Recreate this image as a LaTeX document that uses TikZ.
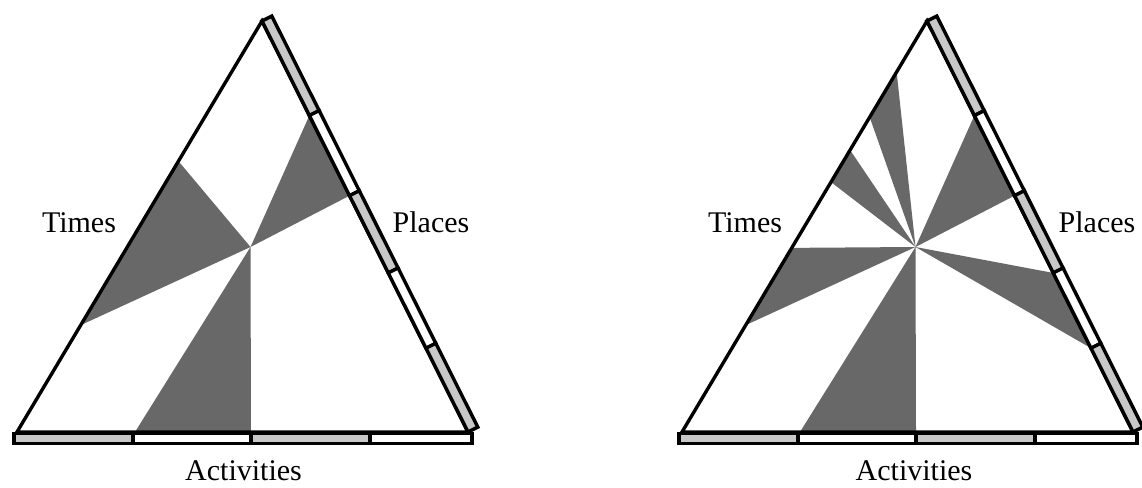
\documentclass[tikz,border=0pt]{standalone}
\usepackage{fontspec}
\setmainfont{Liberation Serif}
\usetikzlibrary{calc}
\definecolor{wedgegray}{RGB}{104,104,104}
\definecolor{bargray}{RGB}{200,200,200}
\tikzset{
  wedge/.style={fill=wedgegray, draw=none},
  outline/.style={draw=black, line width=3.4pt, line join=miter},
  grayseg/.style={fill=bargray, draw=black, line width=3.4pt, line join=miter},
  whiteseg/.style={fill=white, draw=black, line width=3.4pt, line join=miter},
  lbl/.style={font=\fontsize{30}{35}\selectfont, inner sep=0pt, anchor=base}
}
\newcommand\mytriframe{%
  \coordinate (A) at (17,432);
  \coordinate (B) at (468,432);
  \coordinate (C) at (262,21);
  \coordinate (P) at (250.5,247);
  \coordinate (Co) at (271.8,16.1);
  \coordinate (Bo) at (477.8,427.1);
}
\newcommand\mybars{%
  \draw[outline] (A) -- (C) -- (B) -- cycle;
  % bottom bar
  \draw[grayseg]  (14,433.5) rectangle (133,443.5);
  \draw[whiteseg] (133,433.5) rectangle (251,443.5);
  \draw[grayseg]  (251,433.5) rectangle (370,443.5);
  \draw[whiteseg] (370,433.5) rectangle (472,443.5);
  % right bar
  \draw[grayseg]  (C) -- (Co) -- ($(Co)!0.23!(Bo)$) -- ($(C)!0.23!(B)$) -- cycle;
  \draw[whiteseg] ($(C)!0.23!(B)$) -- ($(Co)!0.23!(Bo)$) -- ($(Co)!0.425!(Bo)$) -- ($(C)!0.425!(B)$) -- cycle;
  \draw[grayseg]  ($(C)!0.425!(B)$) -- ($(Co)!0.425!(Bo)$) -- ($(Co)!0.613!(Bo)$) -- ($(C)!0.613!(B)$) -- cycle;
  \draw[whiteseg] ($(C)!0.613!(B)$) -- ($(Co)!0.613!(Bo)$) -- ($(Co)!0.796!(Bo)$) -- ($(C)!0.796!(B)$) -- cycle;
  \draw[grayseg]  ($(C)!0.796!(B)$) -- ($(Co)!0.796!(Bo)$) -- (Bo) -- (B) -- cycle;
}
\begin{document}
\begin{tikzpicture}[x=1pt,y=-1pt]
\useasboundingbox (0,0) rectangle (1142,487);
% ---------- left triangle ----------
\begin{scope}
  \mytriframe
  \fill[wedge] (P) -- (135,432) -- (251,432) -- cycle;
  \fill[wedge] (P) -- ($(A)!0.659!(C)$) -- ($(A)!0.26!(C)$) -- cycle;
  \fill[wedge] (P) -- ($(C)!0.23!(B)$) -- ($(C)!0.425!(B)$) -- cycle;
  \mybars
  \node[lbl] (times1) at (79,232) {Times};
  \node[lbl] (places1) at (431,232) {Places};
  \node[lbl] (act1) at (243.5,480) {Activities};
\end{scope}
% ---------- right triangle ----------
\begin{scope}[xshift=665pt]
  \mytriframe
  \fill[wedge] (P) -- (135,432) -- (251,432) -- cycle;
  \fill[wedge] (P) -- ($(A)!0.26!(C)$) -- ($(A)!0.448!(C)$) -- cycle;
  \fill[wedge] (P) -- ($(A)!0.608!(C)$) -- ($(A)!0.686!(C)$) -- cycle;
  \fill[wedge] (P) -- ($(A)!0.766!(C)$) -- ($(A)!0.876!(C)$) -- cycle;
  \fill[wedge] (P) -- ($(C)!0.23!(B)$) -- ($(C)!0.425!(B)$) -- cycle;
  \fill[wedge] (P) -- ($(C)!0.613!(B)$) -- ($(C)!0.796!(B)$) -- cycle;
  \mybars
  \node[lbl] (times2) at (80,232) {Times};
  \node[lbl] (places2) at (432,232) {Places};
  \node[lbl] (act2) at (249,480) {Activities};
\end{scope}
\end{tikzpicture}
\end{document}
